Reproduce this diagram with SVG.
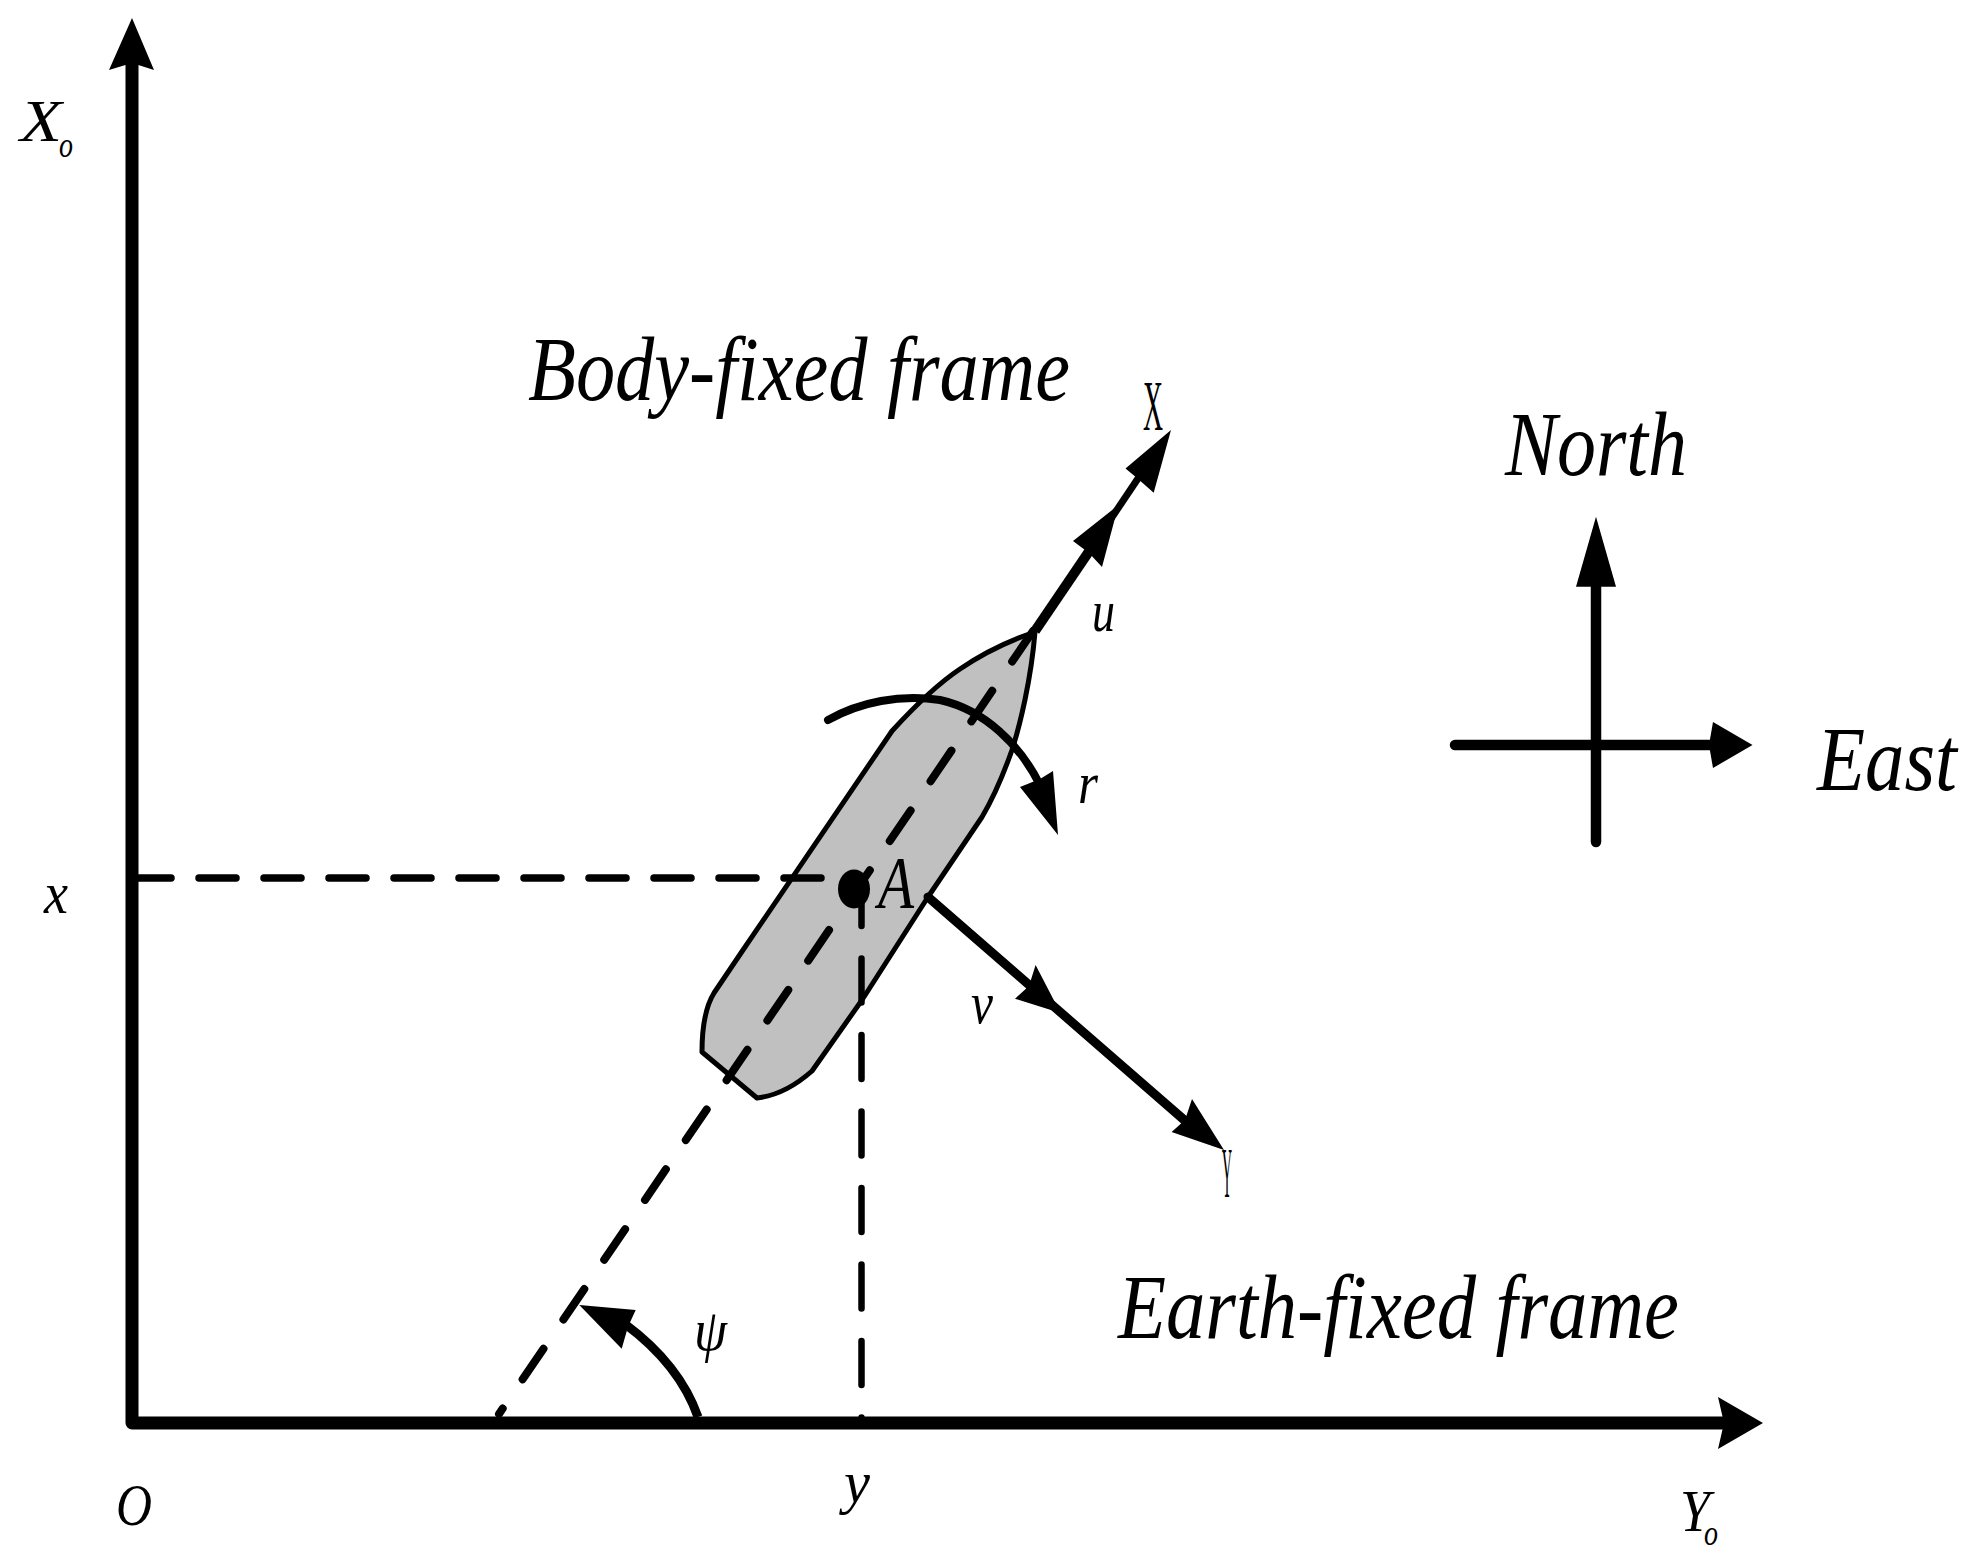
<svg xmlns="http://www.w3.org/2000/svg" width="1971" height="1554" viewBox="0 0 1971 1554">
<style>
text{font-family:"Liberation Serif","Times New Roman",serif;font-style:italic;fill:#000}
.big{font-size:92px}
.mid{font-size:60px}
.sub{font-size:36px}
.up{font-style:normal}
.ln{fill:none;stroke:#000;stroke-linecap:round;stroke-linejoin:round}
.head{fill:#000;stroke:none}
.hull{fill:#c0c0c0;stroke:#000;stroke-width:5;stroke-linejoin:round}
</style>
<rect width="1971" height="1554" fill="#fff"/>
<g id="ship">
<path class="hull" d="M1035 632C1008 641 982 654 960 669C945 679 924 696 892 731L743 950L714 993C706 1006 702 1028 702 1052L757 1098C775 1096 795 1086 812 1071L862 1000L928 897L982 817C995 795 1006 767 1012 750C1020 725 1031 680 1035 632Z"/>
</g>
<g id="connectors">
<path class="ln" style="stroke-width:7.5" stroke-dasharray="37 28" d="M821 878H134"/>
<path class="ln" style="stroke-width:6.5" stroke-dasharray="44 32.5" d="M861.5 882V1423"/>
<path class="ln" style="stroke-width:8" stroke-dasharray="37 35.4" d="M1033 631L499 1414"/>
<path class="ln" style="stroke-width:13;stroke-linecap:butt" d="M132 58V1423H1726"/>
<polygon class="head" points="132,18 154,70 132,63 109,70"/>
<polygon class="head" points="1763,1423 1718,1449 1724,1423 1718,1397"/>
<path class="ln" style="stroke-width:10;stroke-linecap:butt" d="M1035 631L1092 547"/>
<path class="ln" style="stroke-width:7;stroke-linecap:butt" d="M1090 550L1141 474"/>
<polygon class="head" points="1118.5,505 1102,567 1089,553 1073,541"/>
<polygon class="head" points="1171,430 1153.7,492.7 1137,478 1125.5,468.6"/>
<path class="ln" style="stroke-width:9" d="M928 897L1190 1125"/>
<polygon class="head" points="1060.5,1013 1015,998.7 1029,986 1035.6,965"/>
<polygon class="head" points="1224,1150 1171.6,1132 1185,1120 1192,1099"/>
<path class="ln" style="stroke-width:8;stroke-linecap:round" d="M828 720C860 702 900 694 940 700C985 710 1020 745 1040 785"/>
<polygon class="head" points="1058,835 1020,787 1040,779 1053,771"/>
<path class="ln" style="stroke-width:9;stroke-linecap:butt" d="M698 1417C685 1380 660 1350 625 1324"/>
<polygon class="head" points="579.3,1305 635.7,1310 628,1326.7 621.7,1348.7"/>
<path class="ln" style="stroke-width:10.5;stroke-linecap:butt" d="M1596 580V842"/>
<circle cx="1596" cy="842" r="5.2"/>
<polygon class="head" points="1596,516.7 1616,586.7 1576,586.7"/>
<path class="ln" style="stroke-width:10.5" d="M1455 745H1715"/>
<polygon class="head" points="1752.5,745 1713,768 1709,745 1713,722"/>
</g>
<g id="point-A">
<ellipse cx="854" cy="889" rx="16" ry="19.5"/>
<text class="mid" style="font-size:74px" x="878" y="908" textLength="36" lengthAdjust="spacingAndGlyphs">A</text>
</g>
<g id="labels">
<text class="big" x="528" y="400" textLength="542" lengthAdjust="spacingAndGlyphs">Body-fixed frame</text>
<text class="big" x="1118" y="1338" textLength="561" lengthAdjust="spacingAndGlyphs">Earth-fixed frame</text>
<text class="big" x="1505" y="475" textLength="182" lengthAdjust="spacingAndGlyphs">North</text>
<text class="big" x="1817" y="790" textLength="140" lengthAdjust="spacingAndGlyphs">East</text>
<text class="mid" x="20" y="141" textLength="42" lengthAdjust="spacingAndGlyphs">X</text>
<text class="sub" x="59" y="157" textLength="14" lengthAdjust="spacingAndGlyphs">o</text>
<text class="mid" x="1680" y="1531" textLength="30" lengthAdjust="spacingAndGlyphs">Y</text>
<text class="sub" x="1704" y="1545" textLength="14" lengthAdjust="spacingAndGlyphs">o</text>
<text class="mid" x="116" y="1525" textLength="36" lengthAdjust="spacingAndGlyphs">O</text>
<text class="mid" x="44" y="913" textLength="24" lengthAdjust="spacingAndGlyphs">x</text>
<text class="mid" x="844" y="1502" textLength="26" lengthAdjust="spacingAndGlyphs">y</text>
<text class="mid" x="1092" y="631" textLength="23" lengthAdjust="spacingAndGlyphs">u</text>
<text class="mid" x="1078" y="803" textLength="20" lengthAdjust="spacingAndGlyphs">r</text>
<text class="mid" x="971" y="1023" textLength="22" lengthAdjust="spacingAndGlyphs">v</text>
<text class="mid" x="694" y="1350" textLength="33" lengthAdjust="spacingAndGlyphs">ψ</text>
<text class="up" style="font-size:72px" x="1143" y="430" textLength="20" lengthAdjust="spacingAndGlyphs">X</text>
<text class="up" style="font-size:72px" x="1222" y="1197" textLength="10" lengthAdjust="spacingAndGlyphs">Y</text>
</g>
</svg>
